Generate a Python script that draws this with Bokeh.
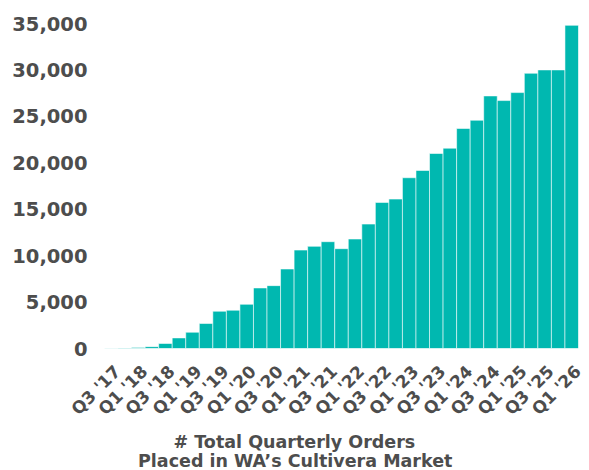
from bokeh.plotting import figure
from bokeh.models import Range1d, FixedTicker, NumeralTickFormatter, Title, ColumnDataSource
from bokeh.embed import file_html
from bokeh.resources import INLINE
import math

quarters = [
    "Q3 '17", "Q4 '17",
    "Q1 '18", "Q2 '18", "Q3 '18", "Q4 '18",
    "Q1 '19", "Q2 '19", "Q3 '19", "Q4 '19",
    "Q1 '20", "Q2 '20", "Q3 '20", "Q4 '20",
    "Q1 '21", "Q2 '21", "Q3 '21", "Q4 '21",
    "Q1 '22", "Q2 '22", "Q3 '22", "Q4 '22",
    "Q1 '23", "Q2 '23", "Q3 '23", "Q4 '23",
    "Q1 '24", "Q2 '24", "Q3 '24", "Q4 '24",
    "Q1 '25", "Q2 '25", "Q3 '25", "Q4 '25",
    "Q1 '26",
]
orders = [
    30, 60,
    120, 200, 540, 1140,
    1750, 2690, 4010, 4120,
    4760, 6520, 6770, 8560,
    10600, 11000, 11500, 10750,
    11790, 13400, 15730, 16090,
    18390, 19170, 21000, 21570,
    23690, 24580, 27200, 26700,
    27560, 29640, 30000, 30000,
    34800,
]
y_ticks = [0, 5000, 10000, 15000, 20000, 25000, 30000, 35000]
title_lines = ["# Total Quarterly Orders", "Placed in  WA\u2019s Cultivera Market"]

TEXT = "#4d4d4d"
FONT = "DejaVu Sans"
LABEL_SHIFT = 0.45  # rotated labels sit slightly right of bar centres in the original

idx = list(range(len(quarters)))
src = ColumnDataSource(dict(x=idx, top=orders, q=quarters))

p = figure(width=589, height=470, output_backend="svg", toolbar_location=None,
           x_range=Range1d(-0.5, len(quarters) - 0.5), y_range=Range1d(0, 36400),
           min_border_left=104, min_border_right=11, min_border_top=10, min_border_bottom=122)

p.vbar(x="x", top="top", width=1.0, source=src, fill_color="#00b8b0",
       line_color="white", line_alpha=0.55, line_width=1)

p.outline_line_color = None
p.xgrid.visible = False
p.ygrid.visible = False
p.background_fill_color = "white"
p.border_fill_color = "white"

ya = p.yaxis[0]
ya.ticker = FixedTicker(ticks=y_ticks)
ya.formatter = NumeralTickFormatter(format="0,0")
ya.axis_line_color = None
ya.major_tick_line_color = None
ya.minor_tick_line_color = None
ya.major_tick_out = 0
ya.minor_tick_out = 0
ya.major_label_standoff = 17
ya.major_label_text_font = FONT
ya.major_label_text_font_style = "bold"
ya.major_label_text_font_size = "19.5px"
ya.major_label_text_color = TEXT

xa = p.xaxis[0]
shown = idx[::2]
tick_pos = [i + LABEL_SHIFT for i in shown]
xa.ticker = FixedTicker(ticks=tick_pos)
xa.major_label_overrides = {t: quarters[i] for t, i in zip(tick_pos, shown)}
xa.axis_line_color = None
xa.major_tick_line_color = None
xa.minor_tick_line_color = None
xa.major_tick_out = 0
xa.minor_tick_out = 0
xa.major_label_orientation = math.pi / 4
xa.major_label_standoff = 20
xa.major_label_text_font = FONT
xa.major_label_text_font_style = "bold"
xa.major_label_text_font_size = "17px"
xa.major_label_text_color = TEXT

for txt, off, so in zip(title_lines, [69, 33.5], [5.4, -12.2]):
    p.add_layout(Title(text=txt, align="left", offset=off, vertical_align="middle", standoff=so,
                       text_font=FONT, text_font_style="bold", text_font_size="17.5px",
                       text_color=TEXT), "below")

open("out.html", "w").write(file_html(p, INLINE))
